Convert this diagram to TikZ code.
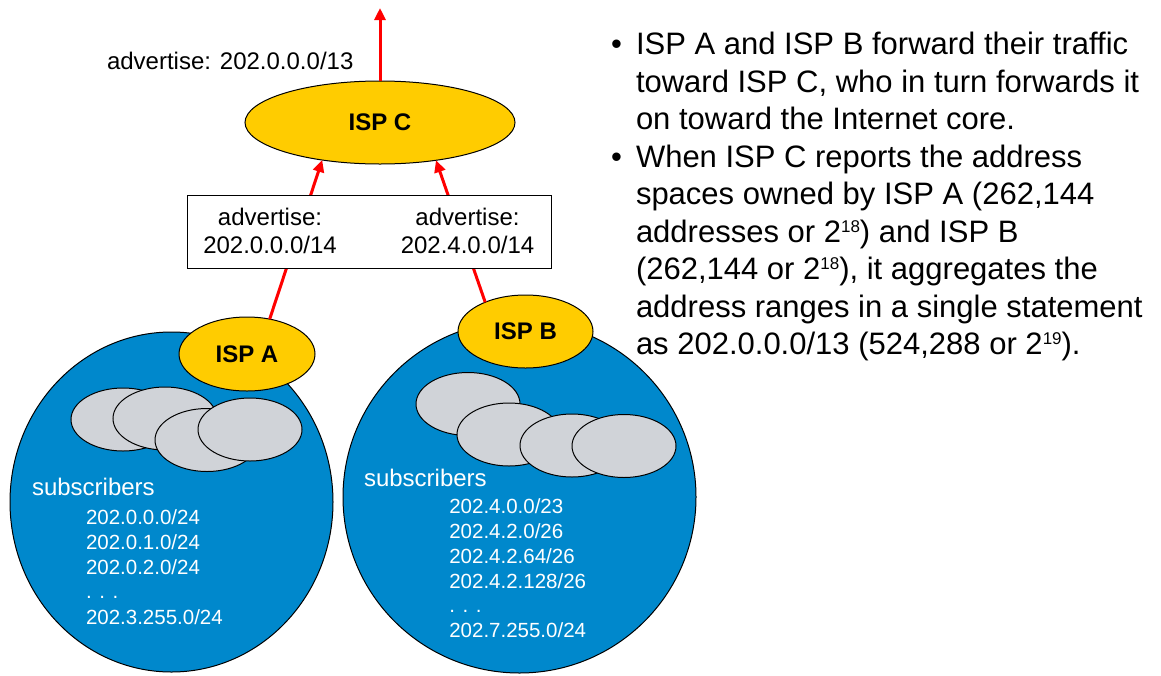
\documentclass[tikz,border=0pt]{standalone}
\usepackage{fontspec}
\setmainfont{Liberation Sans}
\usetikzlibrary{shapes.geometric,arrows.meta}
\definecolor{ispyellow}{RGB}{255,204,0}
\definecolor{netblue}{RGB}{0,136,204}
\definecolor{hostgray}{RGB}{208,211,216}
\definecolor{linkred}{RGB}{255,0,0}
% small raised exponent for the explanation text
\newcommand{\powtwo}[1]{2\raisebox{10pt}{\fontsize{17}{17}\selectfont #1}}

\begin{document}
\begin{tikzpicture}[x=1pt,y=-1pt,
  every node/.style={inner sep=0pt, outer sep=0pt},
  region/.style={ellipse, draw=black, line width=1pt, fill=netblue},
  host/.style={ellipse, draw=black, line width=1pt, fill=hostgray,
               minimum width=104pt, minimum height=63pt},
  isp/.style={ellipse, draw=black, line width=1pt, fill=ispyellow,
              font=\bfseries\fontsize{24}{28}\selectfont},
  link/.style={draw=linkred, line width=3pt, -{Triangle[length=12pt,width=11pt]}},
  advtext/.style={font=\fontsize{24}{28}\selectfont, anchor=base},
  subs/.style={font=\fontsize{24}{28}\selectfont, text=white, anchor=base west},
  addr/.style={font=\fontsize{20.5}{25}\selectfont, text=white, anchor=base west},
  bullettext/.style={font=\fontsize{31}{37}\selectfont, anchor=base west},
  bulletdot/.style={font=\fontsize{31}{37}\selectfont, anchor=base},
]
\useasboundingbox (0,0) rectangle (1161,675);

% customer networks
\node[region, minimum width=323pt, minimum height=340pt] (netA) at (171.5,502) {};
\node[region, minimum width=353pt, minimum height=352pt] (netB) at (519.5,497) {};

% subscriber hosts of ISP A
\node[host] (a1) at (123,419.5) {};
\node[host] (a2) at (165,418.5) {};
\node[host] (a3) at (207,440) {};
\node[host] (a4) at (250,429.5) {};

% subscriber hosts of ISP B
\node[host] (b1) at (468,404) {};
\node[host] (b2) at (509,434.5) {};
\node[host] (b3) at (572,445.5) {};
\node[host] (b4) at (624,446) {};

% providers
\node[isp, minimum width=270pt, minimum height=83pt] (ispC) at (380,122.5) {ISP C};
\node[isp, minimum width=136pt, minimum height=74pt] (ispA) at (247,354) {ISP A};
\node[isp, minimum width=135pt, minimum height=73pt] (ispB) at (525.5,331.5) {ISP B};

% route advertisements
\coordinate (core) at (380,8);
\draw[link] (ispC.north) -- (core);
\draw[link] (ispA.57.4) -- (ispC.213.2);
\draw[link] (ispB.144.2) -- (ispC.326.2);

\node[advtext, anchor=base west] (advC) at (107,69) {advertise: 202.0.0.0/13};

\node[draw=black, line width=1.3pt, fill=white,
      minimum width=364pt, minimum height=73pt] (advbox) at (369.5,231.7) {};
\node[advtext] (advA1) at (270,225) {advertise:};
\node[advtext] (advA2) at (270,253.3) {202.0.0.0/14};
\node[advtext] (advB1) at (467.5,225) {advertise:};
\node[advtext] (advB2) at (467.5,253.3) {202.4.0.0/14};

% subscriber address blocks
\node[subs] (subsA) at (32,495) {subscribers};
\node[addr] (aa1) at (86,524) {202.0.0.0/24};
\node[addr] (aa2) at (86,549) {202.0.1.0/24};
\node[addr] (aa3) at (86,574) {202.0.2.0/24};
\node[addr] (aa4) at (86,598.5) {. . .};
\node[addr] (aa5) at (86,624) {202.3.255.0/24};

\node[subs] (subsB) at (364,486) {subscribers};
\node[addr] (ba1) at (449.3,513.3) {202.4.0.0/23};
\node[addr] (ba2) at (449.3,538.3) {202.4.2.0/26};
\node[addr] (ba3) at (449.3,563.3) {202.4.2.64/26};
\node[addr] (ba4) at (449.3,588.3) {202.4.2.128/26};
\node[addr] (ba5) at (449.3,612.7) {. . .};
\node[addr] (ba6) at (449.3,637.7) {202.7.255.0/24};

% explanation
\node[bulletdot] (dot1) at (616.5,54.5) {\textbullet};
\node[bullettext] (t1) at (636,54.5) {ISP A and ISP B forward their traffic};
\node[bullettext] (t2) at (636,92) {toward ISP C, who in turn forwards it};
\node[bullettext] (t3) at (636,129.5) {on toward the Internet core.};
\node[bulletdot] (dot2) at (616.5,167) {\textbullet};
\node[bullettext] (t4) at (636,167) {When ISP C reports the address};
\node[bullettext] (t5) at (636,204.5) {spaces owned by ISP A (262,144};
\node[bullettext] (t6) at (636,242) {addresses or \powtwo{18}) and ISP B};
\node[bullettext] (t7) at (636,279.5) {(262,144 or \powtwo{18}), it aggregates the};
\node[bullettext] (t8) at (636,317) {address ranges in a single statement};
\node[bullettext] (t9) at (636,354.5) {as 202.0.0.0/13 (524,288 or \powtwo{19}).};
\end{tikzpicture}
\end{document}
